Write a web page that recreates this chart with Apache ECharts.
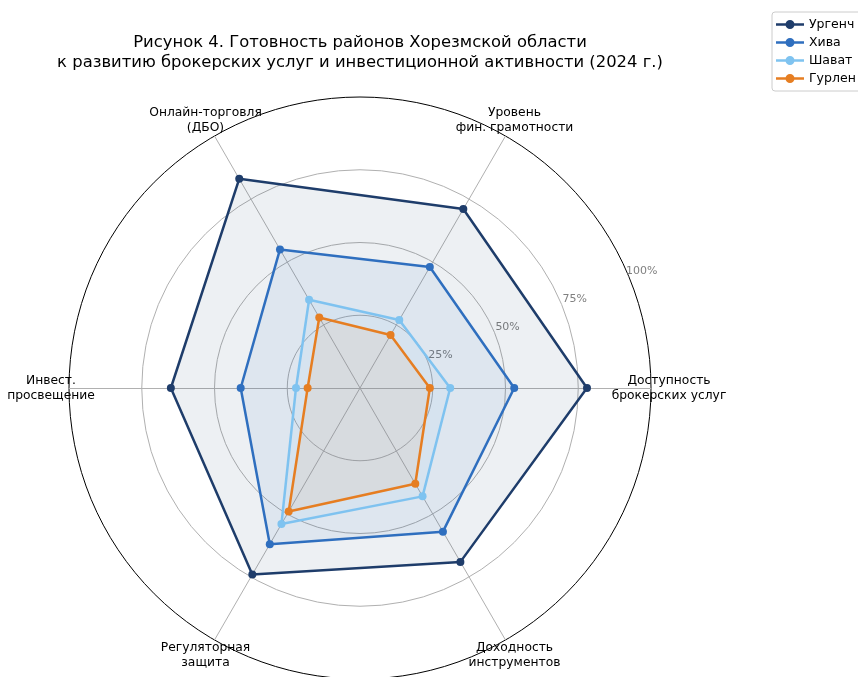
<!DOCTYPE html>
<html>
<head>
<meta charset="utf-8">
<script src="https://cdn.jsdelivr.net/npm/echarts@6/dist/echarts.min.js"></script>
<style>
  html, body { margin: 0; padding: 0; background: #fff; }
  #chart { width: 858px; height: 677px; }
</style>
</head>
<body>
<div id="chart"></div>
<script>
// Оси (против часовой стрелки, начиная справа)
const indicatorNames = [
  'Доступность\nброкерских услуг',
  'Уровень\nфин. грамотности',
  'Онлайн-торговля\n(ДБО)',
  'Инвест.\nпросвещение',
  'Регуляторная\nзащита',
  'Доходность\nинструментов'
];
const districts = ['Ургенч', 'Хива', 'Шават', 'Гурлен'];
const urgench = [78, 71, 83, 65, 74, 69];
const khiva   = [53, 48, 55, 41, 62, 57];
const shavat  = [31, 27, 35, 22, 54, 43];
const gurlen  = [24, 21, 28, 18, 49, 38];
const tickValues = [25, 50, 75, 100];

const seriesValues = [urgench, khiva, shavat, gurlen];
const colors = ['#1f3d6b', '#2f6fbf', '#7fc3f0', '#e67e22'];
const font = 'DejaVu Sans';

const chart = echarts.init(document.getElementById('chart'));

// иконка легенды: линия + кружок
const legendIcon = 'path://M0,2.75H28V5.25H0Z M14,-0.5A4.5,4.5 0 1,1 14,8.5A4.5,4.5 0 1,1 14,-0.5Z';

const option = {
  backgroundColor: '#fff',
  animation: false,
  title: {
    text: 'Рисунок 4. Готовность районов Хорезмской области\nк развитию брокерских услуг и инвестиционной активности (2024 г.)',
    left: 355,
    top: 28,
    textAlign: 'center',
    textStyle: { fontFamily: font, fontSize: 16.4, fontWeight: 'normal', lineHeight: 20, color: '#000' }
  },
  legend: {
    data: districts,
    orient: 'vertical',
    left: 772,
    top: 12,
    padding: [6, 8, 6, 4],
    borderColor: '#cccccc',
    borderWidth: 1,
    borderRadius: 3,
    itemWidth: 28,
    itemHeight: 9,
    itemGap: 5,
    icon: legendIcon,
    textStyle: { fontFamily: font, fontSize: 12.5, color: '#000' }
  },
  radar: {
    center: [360, 388],
    radius: 291,
    startAngle: 0,
    shape: 'circle',
    splitNumber: 4,
    indicator: indicatorNames.map(n => ({ name: n, max: 100, min: 0 })),
    axisName: {
      color: '#000',
      fontFamily: font,
      fontSize: 12.3,
      lineHeight: 15,
      align: 'center',
      verticalAlign: 'middle'
    },
    nameGap: 18,
    axisLine: { lineStyle: { color: '#b0b0b0', width: 1 } },
    splitLine: { lineStyle: { color: ['#b0b0b0', '#b0b0b0', '#b0b0b0', '#b0b0b0', '#000'], width: 1 } },
    splitArea: { show: false },
    axisTick: { show: false },
    axisLabel: { show: false }
  },
  // полярная система только для подписей процентов
  polar: { center: [360, 388], radius: 305 },
  angleAxis: { startAngle: 22.5, show: false, min: 0, max: 360 },
  radiusAxis: {
    min: -5,
    max: 100,
    axisLine: { show: false },
    axisTick: { show: false },
    splitLine: { show: false },
    axisLabel: {
      customValues: tickValues,
      formatter: '{value}%',
      color: '#808080',
      fontFamily: font,
      fontSize: 11,
      margin: 0,
      align: 'center',
      verticalAlign: 'middle'
    }
  },
  series: districts.map((d, i) => ({
    name: d,
    type: 'radar',
    symbol: 'circle',
    symbolSize: 8,
    z: 2 + i,
    lineStyle: { width: 2.5, color: colors[i] },
    itemStyle: { color: colors[i] },
    areaStyle: { color: colors[i], opacity: 0.08 },
    data: [{ name: d, value: seriesValues[i] }]
  }))
};

chart.setOption(option);
</script>
</body>
</html>
